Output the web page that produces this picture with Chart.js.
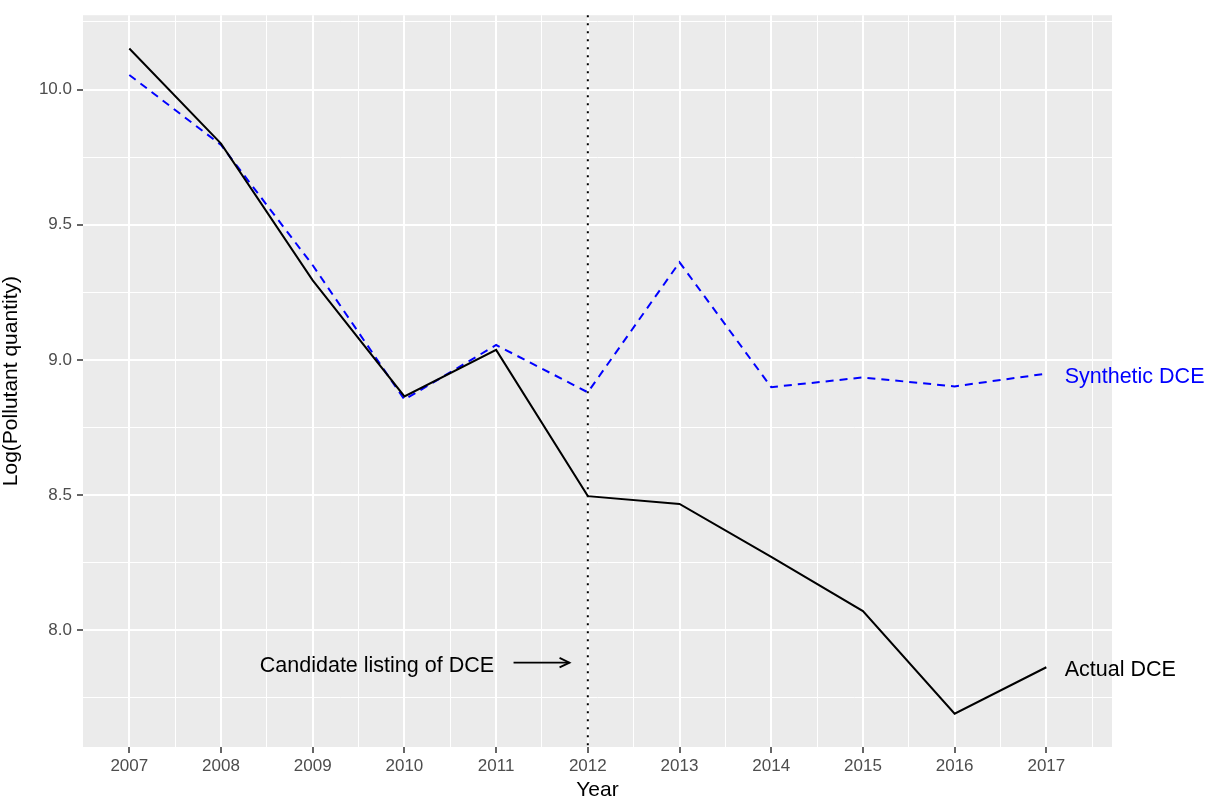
<!DOCTYPE html>
<html>
<head>
<meta charset="utf-8">
<script src="https://cdn.jsdelivr.net/npm/chart.js@4.4.1/dist/chart.umd.min.js"></script>
<style>
  html, body { margin: 0; padding: 0; background: #ffffff; }
  canvas { display: block; }
</style>
</head>
<body>
<canvas id="c" width="1207" height="799"></canvas>
<script>
// Yearly log pollutant quantities: observed DCE vs. its synthetic control
const years = [2007, 2008, 2009, 2010, 2011, 2012, 2013, 2014, 2015, 2016, 2017];
const actualDCE = [10.152, 9.800, 9.294, 8.865, 9.037, 8.496, 8.467, 8.271, 8.071, 7.691, 7.863];
const syntheticDCE = [10.054, 9.795, 9.350, 8.853, 9.055, 8.880, 9.361, 8.899, 8.935, 8.902, 8.949];

// Axis breaks (major ones are labelled, minor ones only get a grid line)
const xMajorTicks = [2007, 2008, 2009, 2010, 2011, 2012, 2013, 2014, 2015, 2016, 2017];
const xMinorTicks = [2007.5, 2008.5, 2009.5, 2010.5, 2011.5, 2012.5, 2013.5, 2014.5, 2015.5, 2016.5, 2017.5];
const yMajorTicks = [8.0, 8.5, 9.0, 9.5, 10.0];
const yMinorTicks = [7.75, 8.25, 8.75, 9.25, 9.75, 10.25];
const xLimits = [2006.495, 2017.716];
const yLimits = [7.568, 10.275];

// Event marker and annotation anchors (data coordinates)
const listingYear = 2012;
const listingNote = { text: 'Candidate listing of DCE', x: 2009.70, y: 7.878 };
const listingArrow = { x0: 2011.19, x1: 2011.80, y: 7.880 };
const seriesLabels = [
  { text: 'Synthetic DCE', x: 2017.2, y: 8.949, color: '#0000FF' },
  { text: 'Actual DCE', x: 2017.2, y: 7.863, color: '#000000' }
];

const FONT = "'Liberation Sans', Arial, Helvetica, sans-serif";
Chart.defaults.font.family = FONT;

const toPoints = vals => years.map((yr, i) => ({ x: yr, y: vals[i] }));
const allTicks = (major, minor) => major.concat(minor).sort((a, b) => a - b).map(v => ({ value: v }));
const isMajor = (list, v) => list.some(m => Math.abs(m - v) < 1e-9);

// canvas 'middle' sits a little above the optical centre of the glyphs
const TEXT_NUDGE = 3;

const panelPlugin = {
  id: 'panel',
  beforeDraw(chart) {
    const { ctx, chartArea: a } = chart;
    ctx.save();
    ctx.fillStyle = '#ffffff';
    ctx.fillRect(0, 0, chart.width, chart.height);
    ctx.fillStyle = '#EBEBEB';
    ctx.fillRect(a.left, a.top, a.right - a.left, a.bottom - a.top);
    ctx.restore();
  },
  afterDatasetsDraw(chart) {
    const { ctx, chartArea: a, scales: { x, y } } = chart;
    ctx.save();

    // dotted vertical marker at the listing year
    const vx = x.getPixelForValue(listingYear);
    ctx.strokeStyle = '#000000';
    ctx.lineWidth = 2;
    ctx.setLineDash([2, 6]);
    ctx.beginPath();
    ctx.moveTo(vx, a.top);
    ctx.lineTo(vx, a.bottom);
    ctx.stroke();
    ctx.setLineDash([]);

    // series labels at the right end of each line
    ctx.font = '21.5px ' + FONT;
    ctx.textBaseline = 'middle';
    ctx.textAlign = 'left';
    seriesLabels.forEach(l => {
      ctx.fillStyle = l.color;
      ctx.fillText(l.text, x.getPixelForValue(l.x), y.getPixelForValue(l.y) + TEXT_NUDGE);
    });

    // listing note with arrow pointing to the marker
    ctx.fillStyle = '#000000';
    ctx.textAlign = 'center';
    ctx.fillText(listingNote.text, x.getPixelForValue(listingNote.x), y.getPixelForValue(listingNote.y) + TEXT_NUDGE);

    const ax0 = x.getPixelForValue(listingArrow.x0);
    const ax1 = x.getPixelForValue(listingArrow.x1);
    const ay = y.getPixelForValue(listingArrow.y);
    ctx.lineWidth = 1.8;
    ctx.lineCap = 'butt';
    ctx.beginPath();
    ctx.moveTo(ax0, ay);
    ctx.lineTo(ax1, ay);
    ctx.stroke();
    const head = 11, ang = Math.PI / 7;
    ctx.beginPath();
    ctx.moveTo(ax1 - head * Math.cos(ang), ay - head * Math.sin(ang));
    ctx.lineTo(ax1, ay);
    ctx.lineTo(ax1 - head * Math.cos(ang), ay + head * Math.sin(ang));
    ctx.stroke();

    ctx.restore();
  }
};

new Chart(document.getElementById('c'), {
  type: 'line',
  data: {
    datasets: [
      {
        label: 'Actual DCE',
        data: toPoints(actualDCE),
        borderColor: '#000000',
        borderWidth: 2,
        pointRadius: 0,
        tension: 0,
        fill: false
      },
      {
        label: 'Synthetic DCE',
        data: toPoints(syntheticDCE),
        borderColor: '#0000FF',
        borderWidth: 2,
        borderDash: [8, 6],
        pointRadius: 0,
        tension: 0,
        fill: false
      }
    ]
  },
  options: {
    responsive: false,
    animation: false,
    layout: { padding: { top: 13, right: 95, left: 0, bottom: 0 } },
    plugins: {
      legend: { display: false },
      tooltip: { enabled: false }
    },
    scales: {
      x: {
        type: 'linear',
        min: xLimits[0],
        max: xLimits[1],
        afterBuildTicks: s => { s.ticks = allTicks(xMajorTicks, xMinorTicks); },
        afterFit: s => { s.height = 52; },
        ticks: {
          autoSkip: false,
          maxRotation: 0,
          padding: 3,
          color: '#4D4D4D',
          font: { size: 17 },
          callback: v => isMajor(xMajorTicks, v) ? String(v) : ''
        },
        grid: {
          color: '#FFFFFF',
          lineWidth: c => isMajor(xMajorTicks, c.tick.value) ? 2 : 1,
          tickColor: c => isMajor(xMajorTicks, c.tick.value) ? '#333333' : 'rgba(0,0,0,0)',
          tickLength: 6,
          tickWidth: 1.5
        },
        border: { display: false },
        title: {
          display: true,
          text: 'Year',
          color: '#000000',
          font: { size: 21, lineHeight: 0.8 },
          padding: { top: 0, bottom: 0 }
        }
      },
      y: {
        type: 'linear',
        min: yLimits[0],
        max: yLimits[1],
        afterBuildTicks: s => { s.ticks = allTicks(yMajorTicks, yMinorTicks); },
        afterFit: s => { s.width = 83; },
        ticks: {
          autoSkip: false,
          padding: 5,
          color: '#4D4D4D',
          font: { size: 17 },
          callback: v => isMajor(yMajorTicks, v) ? v.toFixed(1) : ''
        },
        grid: {
          color: '#FFFFFF',
          lineWidth: c => isMajor(yMajorTicks, c.tick.value) ? 2 : 1,
          tickColor: c => isMajor(yMajorTicks, c.tick.value) ? '#333333' : 'rgba(0,0,0,0)',
          tickLength: 6,
          tickWidth: 1.5
        },
        border: { display: false },
        title: {
          display: true,
          text: 'Log(Pollutant quantity)',
          color: '#000000',
          font: { size: 21, lineHeight: 1.05 },
          padding: { top: 0, bottom: 0 }
        }
      }
    }
  },
  plugins: [panelPlugin]
});
</script>
</body>
</html>
